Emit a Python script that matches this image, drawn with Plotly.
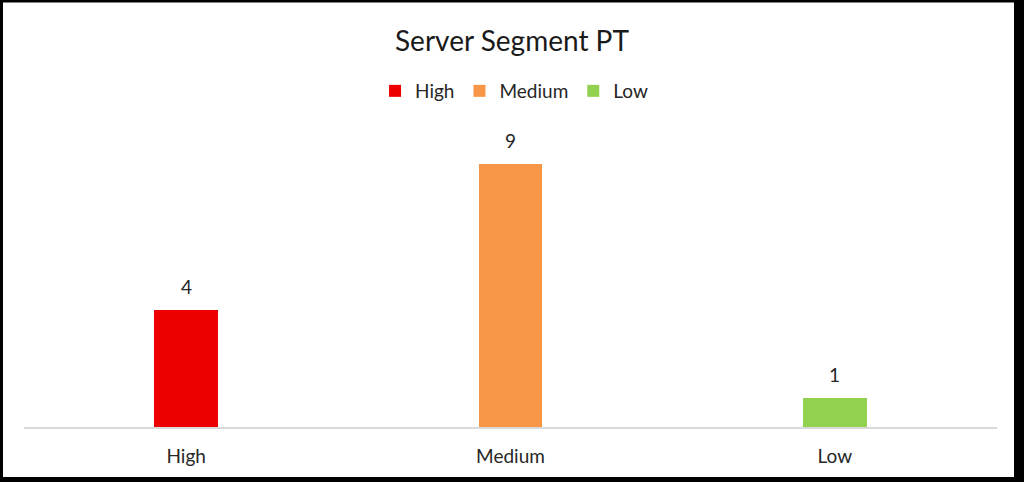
import plotly.graph_objects as go

categories = ["High", "Medium", "Low"]
values = [4, 9, 1]
colors = ["#EE0000", "#F79646", "#92D050"]
title_text = "Server Segment PT"

W, H = 1024, 482
ml, mr, mt, mb = 24, 27, 135, 55
FONT = "Lato, Carlito, sans-serif"

fig = go.Figure()
for cat, val, col in zip(categories, values, colors):
    fig.add_trace(go.Bar(
        x=[cat], y=[val], name=cat, marker=dict(color=col, line=dict(width=0)),
        width=0.197, showlegend=True,
    ))

for cat, val in zip(categories, values):
    fig.add_annotation(x=cat, y=val, text=str(val), showarrow=False,
                       yanchor="bottom", yshift=10,
                       font=dict(family=FONT, size=19, color="#262626"))

# frame: black paper with white inner rectangle
pw = W - ml - mr
ph = H - mt - mb
def px2x(p):
    return (p - ml) / pw
def py2y(p):
    return 1 - (p - mt) / ph

fig.add_shape(type="rect", xref="paper", yref="paper",
              x0=px2x(3), x1=px2x(1014), y0=py2y(477), y1=py2y(2.5),
              fillcolor="white", line=dict(width=0), layer="below")

fig.update_layout(
    width=W, height=H,
    margin=dict(l=ml, r=mr, t=mt, b=mb),
    paper_bgcolor="black",
    plot_bgcolor="rgba(0,0,0,0)",
    barmode="overlay",
    font=dict(family=FONT, color="#262626"),
    title=dict(text=title_text, x=0.5, xanchor="center", xref="container",
               y=1 - 41 / H, yanchor="middle", yref="container",
               font=dict(size=28, color="#1a1a1a")),
    legend=dict(orientation="h", x=0.502, xanchor="center", xref="container",
                y=1 - 91 / H, yanchor="middle", yref="container",
                font=dict(size=19, color="#262626"), itemwidth=30,
                bgcolor="rgba(0,0,0,0)", traceorder="normal"),
    showlegend=True,
    bargap=0,
)
fig.update_xaxes(showline=True, linecolor="#D9D9D9", linewidth=1.5, showgrid=False,
                 ticks="", tickfont=dict(size=19, color="#262626"), ticklabelstandoff=11,
                 zeroline=False, fixedrange=True)
fig.update_yaxes(range=[0, 10], visible=False, showgrid=False, zeroline=False)

fig.write_html("out.html")
